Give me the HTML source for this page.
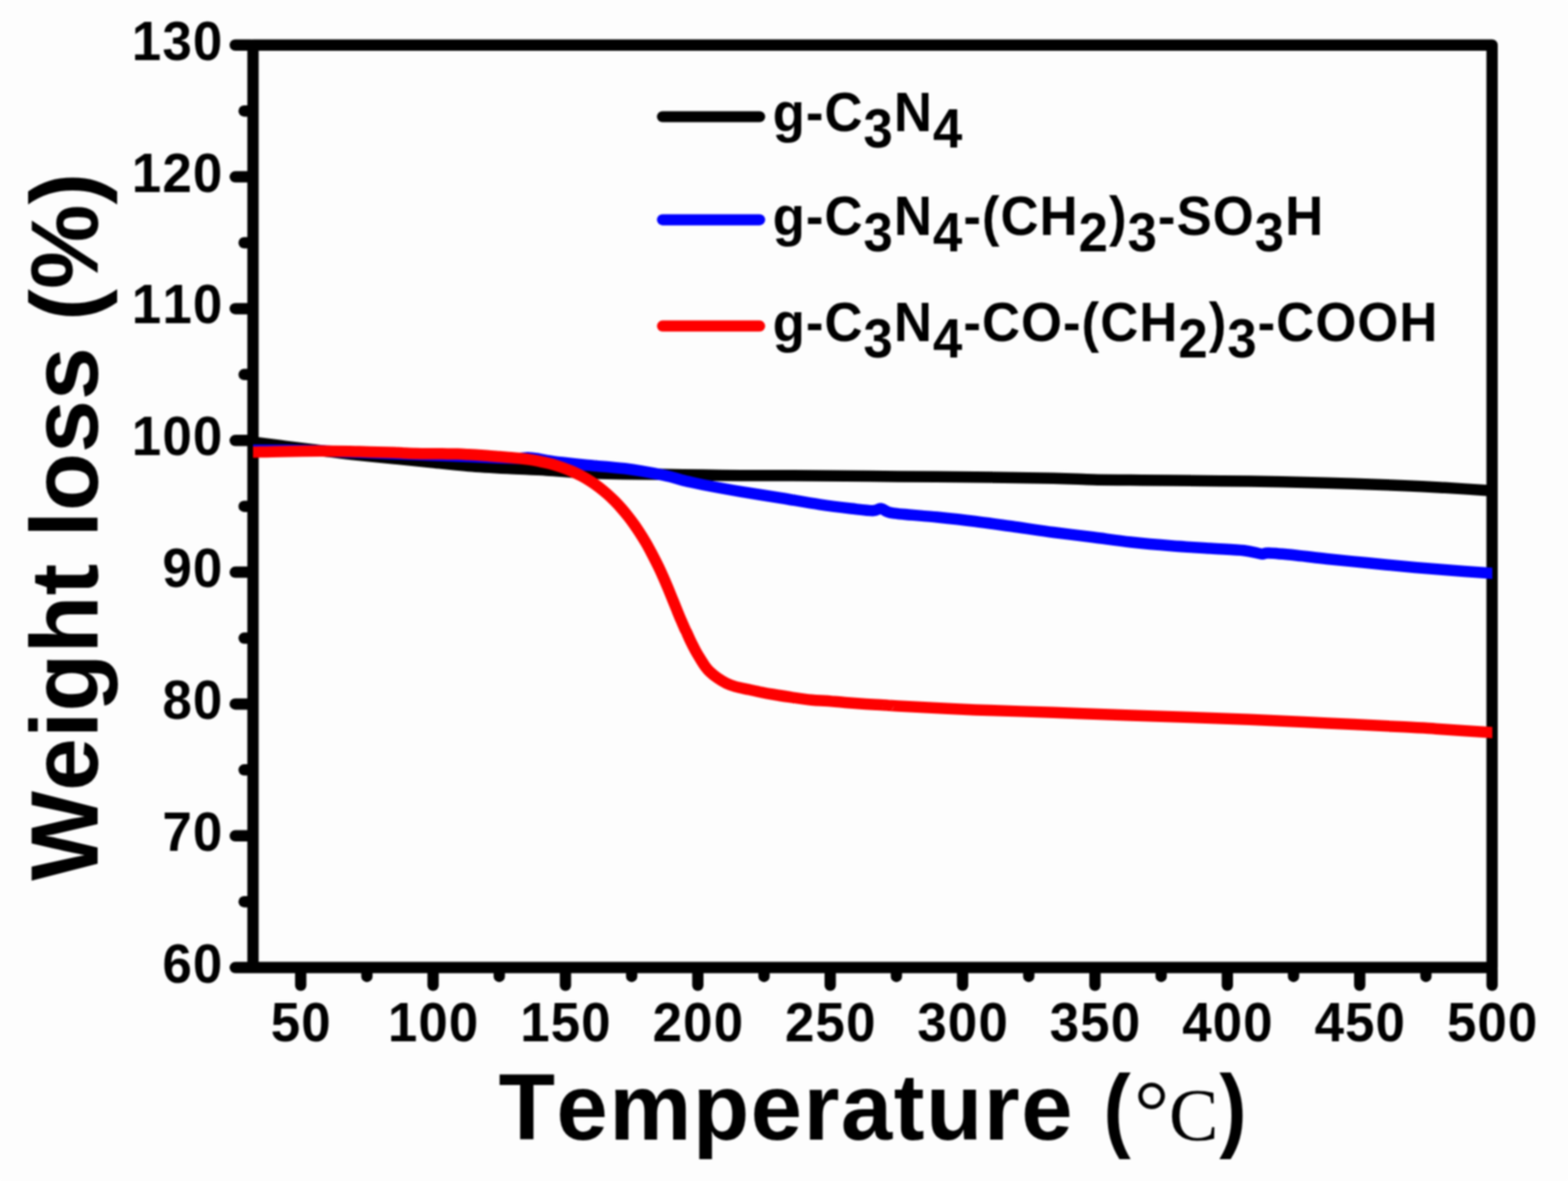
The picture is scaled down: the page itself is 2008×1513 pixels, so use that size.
<!DOCTYPE html>
<html lang="en"><head><meta charset="utf-8"><title>TGA weight loss curves</title>
<style>
html,body{margin:0;padding:0;background:#fdfdfd;}
body{width:2008px;height:1513px;overflow:hidden;}
svg{display:block;}
#fig{width:2008px;height:1513px;overflow:hidden;filter:blur(0.8px);}
text{font-family:"Liberation Sans",sans-serif;font-weight:bold;fill:#000;font-kerning:none;font-variant-ligatures:none;}
.tk{font-size:70.2px;letter-spacing:1.42px;}
.xt{font-size:118.4px;letter-spacing:1.8px;}
.xp{font-size:119.4px;}
.yt{font-size:121.8px;}
.lg{font-size:69.7px;letter-spacing:1.3px;}
.dg{font-family:"Liberation Serif",serif;font-weight:normal;font-size:113px;}
.cc{font-family:"Liberation Serif",serif;font-weight:normal;font-size:95px;}
</style></head><body>
<div id="fig">
<svg width="2008" height="1513" viewBox="0 0 2008 1513" role="img" aria-label="Thermogravimetric weight loss curves">
<rect x="0" y="0" width="2008" height="1513" fill="#fdfdfd"/>
<g fill="none" stroke="#000" stroke-width="14.5" stroke-linecap="round" stroke-linejoin="round">
<path d="M324.0,57.75 H1910.8 V1239.6 H324.0 Z"/>
<path d="M321.0,1239.60 h-19.75"/>
<path d="M321.0,1155.18 h-8.35"/>
<path d="M321.0,1070.76 h-19.75"/>
<path d="M321.0,986.35 h-8.35"/>
<path d="M321.0,901.93 h-19.75"/>
<path d="M321.0,817.51 h-8.35"/>
<path d="M321.0,733.09 h-19.75"/>
<path d="M321.0,648.67 h-8.35"/>
<path d="M321.0,564.26 h-19.75"/>
<path d="M321.0,479.84 h-8.35"/>
<path d="M321.0,395.42 h-19.75"/>
<path d="M321.0,311.00 h-8.35"/>
<path d="M321.0,226.59 h-19.75"/>
<path d="M321.0,142.17 h-8.35"/>
<path d="M321.0,57.75 h-19.75"/>
<path d="M385.10,1242.6 v19.75"/>
<path d="M469.86,1242.6 v8.35"/>
<path d="M554.62,1242.6 v19.75"/>
<path d="M639.38,1242.6 v8.35"/>
<path d="M724.14,1242.6 v19.75"/>
<path d="M808.91,1242.6 v8.35"/>
<path d="M893.67,1242.6 v19.75"/>
<path d="M978.43,1242.6 v8.35"/>
<path d="M1063.19,1242.6 v19.75"/>
<path d="M1147.95,1242.6 v8.35"/>
<path d="M1232.71,1242.6 v19.75"/>
<path d="M1317.47,1242.6 v8.35"/>
<path d="M1402.23,1242.6 v19.75"/>
<path d="M1486.99,1242.6 v8.35"/>
<path d="M1571.76,1242.6 v19.75"/>
<path d="M1656.52,1242.6 v8.35"/>
<path d="M1741.28,1242.6 v19.75"/>
<path d="M1826.04,1242.6 v8.35"/>
<path d="M1910.80,1242.6 v19.75"/>
</g>
<clipPath id="plot"><rect x="324.0" y="57.75" width="1587.1" height="1181.85"/></clipPath>
<g fill="none" stroke-width="14.5" stroke-linejoin="round" stroke-linecap="butt" clip-path="url(#plot)">
<path stroke="#000000" d="M310.0,564.7 C312.3,565.0 315.7,565.5 324.0,566.5 C332.3,567.5 347.3,569.4 360.0,571.0 C372.7,572.6 385.0,574.2 400.0,576.0 C415.0,577.8 432.5,580.1 450.0,582.0 C467.5,583.9 488.3,585.8 505.0,587.5 C521.7,589.2 534.2,590.4 550.0,592.0 C565.8,593.6 583.3,595.6 600.0,596.9 C616.7,598.2 633.3,599.1 650.0,600.0 C666.7,600.9 683.3,601.4 700.0,602.4 C716.7,603.4 733.3,605.0 750.0,605.8 C766.7,606.6 783.5,606.9 800.0,607.2 C816.5,607.5 832.3,607.6 849.0,607.8 C865.7,608.0 883.3,608.3 900.0,608.5 C916.7,608.7 932.3,609.1 949.0,609.2 C965.7,609.3 983.2,609.1 1000.0,609.2 C1016.8,609.3 1025.0,609.4 1050.0,609.6 C1075.0,609.8 1116.8,610.1 1150.0,610.4 C1183.2,610.7 1215.8,610.8 1249.0,611.2 C1282.2,611.6 1323.8,612.2 1349.0,612.7 C1374.2,613.2 1383.5,614.1 1400.0,614.5 C1416.5,614.9 1431.3,614.9 1448.0,615.1 C1464.7,615.3 1474.7,615.4 1500.0,615.6 C1525.3,615.9 1566.7,616.1 1600.0,616.6 C1633.3,617.1 1666.8,617.9 1700.0,618.8 C1733.2,619.7 1774.0,621.2 1799.0,622.2 C1824.0,623.2 1831.3,623.7 1850.0,624.8 C1868.7,625.9 1898.5,627.9 1911.0,628.7 C1923.5,629.5 1922.7,629.5 1925.0,629.7"/>
<path stroke="#0000fe" d="M310.0,576.8 C312.3,576.8 315.7,576.8 324.0,576.8 C332.3,576.8 347.3,576.7 360.0,576.8 C372.7,576.9 385.0,576.9 400.0,577.3 C415.0,577.7 432.5,578.5 450.0,579.2 C467.5,579.9 488.3,580.8 505.0,581.5 C521.7,582.2 534.2,582.6 550.0,583.2 C565.8,583.8 585.0,584.4 600.0,585.0 C615.0,585.6 629.2,586.4 640.0,586.8 C650.8,587.2 659.0,587.3 665.0,587.2 C671.0,587.1 671.8,586.1 676.0,586.2 C680.2,586.3 686.0,587.2 690.0,587.8 C694.0,588.4 695.0,589.0 700.0,589.8 C705.0,590.6 711.7,591.5 720.0,592.5 C728.3,593.5 736.7,594.5 750.0,595.8 C763.3,597.1 783.5,598.1 800.0,600.3 C816.5,602.4 835.7,606.0 849.0,608.7 C862.3,611.4 871.5,614.6 880.0,616.6 C888.5,618.6 888.5,618.8 900.0,621.0 C911.5,623.2 932.3,627.1 949.0,629.9 C965.7,632.7 983.2,635.2 1000.0,638.0 C1016.8,640.8 1035.0,644.1 1050.0,646.4 C1065.0,648.6 1078.7,650.2 1090.0,651.5 C1101.3,652.8 1111.2,654.2 1117.7,654.2 C1124.2,654.2 1124.4,651.1 1128.7,651.6 C1133.0,652.1 1131.7,655.6 1143.6,657.4 C1155.5,659.2 1182.4,660.7 1200.0,662.5 C1217.6,664.3 1232.3,665.9 1249.0,668.0 C1265.7,670.1 1283.3,672.7 1300.0,675.0 C1316.7,677.3 1332.3,679.8 1349.0,682.0 C1365.7,684.2 1383.5,686.2 1400.0,688.3 C1416.5,690.4 1431.3,692.7 1448.0,694.5 C1464.7,696.3 1483.0,697.9 1500.0,699.2 C1517.0,700.5 1534.5,701.5 1550.0,702.5 C1565.5,703.5 1582.2,704.0 1593.0,705.2 C1603.8,706.4 1609.7,709.0 1615.0,709.6 C1620.3,710.2 1617.5,708.3 1625.0,708.6 C1632.5,708.9 1647.7,710.3 1660.0,711.5 C1672.3,712.7 1684.0,714.4 1699.0,716.0 C1714.0,717.6 1733.3,719.4 1750.0,721.0 C1766.7,722.6 1782.3,724.3 1799.0,725.8 C1815.7,727.3 1831.3,728.5 1850.0,730.0 C1868.7,731.5 1898.5,733.5 1911.0,734.5 C1923.5,735.5 1922.7,735.6 1925.0,735.8"/>
<path stroke="#fe0000" d="M310.0,579.7 C312.3,579.6 315.7,579.5 324.0,579.3 C332.3,579.1 345.7,578.6 360.0,578.4 C374.3,578.1 393.3,577.8 410.0,577.8 C426.7,577.8 444.2,578.3 460.0,578.6 C475.8,578.9 495.1,579.5 504.9,579.8 C514.7,580.1 514.1,580.3 518.7,580.5 C523.3,580.7 527.8,580.9 532.3,581.0 C536.8,581.1 541.4,581.2 545.9,581.2 C550.4,581.2 554.8,581.3 559.3,581.3 C563.8,581.3 568.3,581.4 572.8,581.4 C577.3,581.4 581.6,581.4 586.1,581.5 C590.6,581.6 594.4,581.9 600.0,582.3 C605.6,582.6 613.3,583.1 620.0,583.6 C626.7,584.1 634.2,584.5 640.0,585.0 C645.8,585.5 650.0,585.8 655.0,586.3 C660.0,586.8 665.0,587.2 670.0,587.8 C675.0,588.4 680.5,589.1 685.0,589.9 C689.5,590.7 693.3,591.6 697.0,592.4 C700.7,593.2 703.2,593.7 707.1,594.8 C711.0,595.9 715.9,597.5 720.2,599.0 C724.5,600.5 728.7,602.2 732.8,604.0 C736.9,605.8 741.0,607.8 744.9,609.9 C748.8,612.0 752.6,614.2 756.3,616.6 C760.0,619.0 763.6,621.5 767.1,624.2 C770.6,626.9 774.0,629.7 777.3,632.6 C780.6,635.5 783.8,638.6 786.9,641.7 C790.0,644.8 793.0,648.1 795.9,651.4 C798.8,654.7 801.7,658.2 804.5,661.7 C807.3,665.2 809.9,668.8 812.5,672.5 C815.1,676.2 817.5,679.9 820.0,683.7 C822.5,687.5 824.9,691.5 827.2,695.4 C829.5,699.3 831.6,703.4 833.8,707.4 C835.9,711.4 838.0,715.5 840.1,719.6 C842.2,723.7 844.2,727.8 846.1,732.0 C848.0,736.2 849.9,740.4 851.7,744.6 C853.5,748.8 855.3,753.0 857.0,757.2 C858.7,761.4 860.4,765.6 862.1,769.8 C863.8,774.0 865.5,778.2 867.2,782.4 C868.9,786.6 870.6,790.8 872.4,794.9 C874.2,799.0 876.6,804.7 877.8,807.2 C878.9,809.7 878.2,807.6 879.3,810.0 C880.4,812.4 882.6,817.7 884.6,821.8 C886.6,825.9 889.1,830.7 891.2,834.6 C893.4,838.5 895.5,841.9 897.5,845.1 C899.5,848.3 901.1,851.1 903.0,853.6 C904.9,856.1 906.2,858.0 908.8,860.4 C911.3,862.8 914.8,865.7 918.3,868.2 C921.8,870.7 926.1,873.3 930.0,875.2 C933.9,877.1 936.8,878.2 941.7,879.6 C946.7,881.0 954.2,882.3 959.7,883.5 C965.2,884.7 970.0,885.8 975.0,886.8 C980.0,887.8 983.7,888.5 989.5,889.5 C995.3,890.5 1001.7,891.6 1010.0,892.8 C1018.3,894.0 1031.7,896.0 1039.3,896.8 C1046.9,897.6 1050.5,897.4 1055.4,897.7 C1060.3,898.0 1064.3,898.4 1068.7,898.8 C1073.1,899.2 1077.6,899.5 1082.0,899.9 C1086.4,900.2 1090.8,900.6 1095.3,900.9 C1099.8,901.2 1104.2,901.6 1108.7,901.9 C1113.2,902.2 1117.7,902.5 1122.2,902.8 C1126.7,903.1 1131.2,903.3 1135.8,903.6 C1140.4,903.9 1130.8,903.4 1149.7,904.4 C1168.6,905.4 1216.0,908.0 1249.2,909.4 C1282.4,910.8 1315.6,911.5 1348.8,912.7 C1382.0,913.9 1406.7,915.0 1448.4,916.5 C1490.1,918.0 1557.3,920.0 1599.2,921.7 C1641.1,923.4 1666.8,924.9 1700.0,926.5 C1733.2,928.1 1775.2,930.1 1798.4,931.3 C1821.6,932.5 1820.3,932.5 1839.0,933.7 C1857.7,934.9 1896.5,937.6 1910.8,938.6 C1925.1,939.6 1922.6,939.4 1925.0,939.6"/>
</g>
<g fill="none" stroke-width="14.2" stroke-linecap="round">
<path stroke="#000" d="M848.4,149.5 H972.8"/>
<path stroke="#0000fe" d="M848.4,281.6 H972.8"/>
<path stroke="#fe0000" d="M848.4,417.7 H972.8"/>
</g>
<text class="tk" transform="translate(286.0,1258.5) scale(0.965,1.005)" text-anchor="end">60</text>
<text class="tk" transform="translate(286.0,1089.7) scale(0.965,1.005)" text-anchor="end">70</text>
<text class="tk" transform="translate(286.0,920.8) scale(0.965,1.005)" text-anchor="end">80</text>
<text class="tk" transform="translate(286.0,752.0) scale(0.965,1.005)" text-anchor="end">90</text>
<text class="tk" transform="translate(286.0,583.2) scale(0.965,1.005)" text-anchor="end">100</text>
<text class="tk" transform="translate(286.0,414.3) scale(0.965,1.005)" text-anchor="end">110</text>
<text class="tk" transform="translate(286.0,245.5) scale(0.965,1.005)" text-anchor="end">120</text>
<text class="tk" transform="translate(286.0,76.7) scale(0.965,1.005)" text-anchor="end">130</text>
<text class="tk" transform="translate(385.8,1334.0) scale(0.965,1.005)" text-anchor="middle">50</text>
<text class="tk" transform="translate(555.3,1334.0) scale(0.965,1.005)" text-anchor="middle">100</text>
<text class="tk" transform="translate(724.8,1334.0) scale(0.965,1.005)" text-anchor="middle">150</text>
<text class="tk" transform="translate(894.4,1334.0) scale(0.965,1.005)" text-anchor="middle">200</text>
<text class="tk" transform="translate(1063.9,1334.0) scale(0.965,1.005)" text-anchor="middle">250</text>
<text class="tk" transform="translate(1233.4,1334.0) scale(0.965,1.005)" text-anchor="middle">300</text>
<text class="tk" transform="translate(1402.9,1334.0) scale(0.965,1.005)" text-anchor="middle">350</text>
<text class="tk" transform="translate(1572.5,1334.0) scale(0.965,1.005)" text-anchor="middle">400</text>
<text class="tk" transform="translate(1742.0,1334.0) scale(0.965,1.005)" text-anchor="middle">450</text>
<text class="tk" transform="translate(1911.5,1334.0) scale(0.965,1.005)" text-anchor="middle">500</text>
<text class="lg" transform="translate(989.4,167.8) scale(0.97,1.0)" text-anchor="start">g-C<tspan dy="21.50">3</tspan><tspan dy="-21.50">N</tspan><tspan dy="21.50">4</tspan></text>
<text class="lg" transform="translate(989.4,300.9) scale(0.97,1.0)" text-anchor="start">g-C<tspan dy="21.50">3</tspan><tspan dy="-21.50">N</tspan><tspan dy="21.50">4</tspan><tspan dy="-21.50">-(CH</tspan><tspan dy="21.50">2</tspan><tspan dy="-21.50">)</tspan><tspan dy="21.50">3</tspan><tspan dy="-21.50">-SO</tspan><tspan dy="21.50">3</tspan><tspan dy="-21.50">H</tspan></text>
<text class="lg" transform="translate(989.4,436.9) scale(0.97,1.0)" text-anchor="start">g-C<tspan dy="21.50">3</tspan><tspan dy="-21.50">N</tspan><tspan dy="21.50">4</tspan><tspan dy="-21.50">-CO-(CH</tspan><tspan dy="21.50">2</tspan><tspan dy="-21.50">)</tspan><tspan dy="21.50">3</tspan><tspan dy="-21.50">-COOH</tspan></text>
<g>
<text class="xt" transform="translate(638.4,1460.0) scale(1,1.015)" text-anchor="start">Temperature </text>
<text class="xp" transform="translate(1412.9,1460.0) scale(0.88,1.0)" text-anchor="start">(</text>
<text class="dg" transform="translate(1452.3,1461.8) scale(1,1.0)" text-anchor="start">°</text>
<text class="cc" transform="translate(1497.1,1461.2) scale(1,1.0)" text-anchor="start">C</text>
<text class="xp" transform="translate(1561.5,1460.0) scale(0.88,1.0)" text-anchor="start">)</text>
</g>
<text class="yt" transform="translate(125.0,1128.2) rotate(-90) scale(1,1.01)" text-anchor="start">Weight loss (%)</text>
</svg>
</div>
</body></html>
